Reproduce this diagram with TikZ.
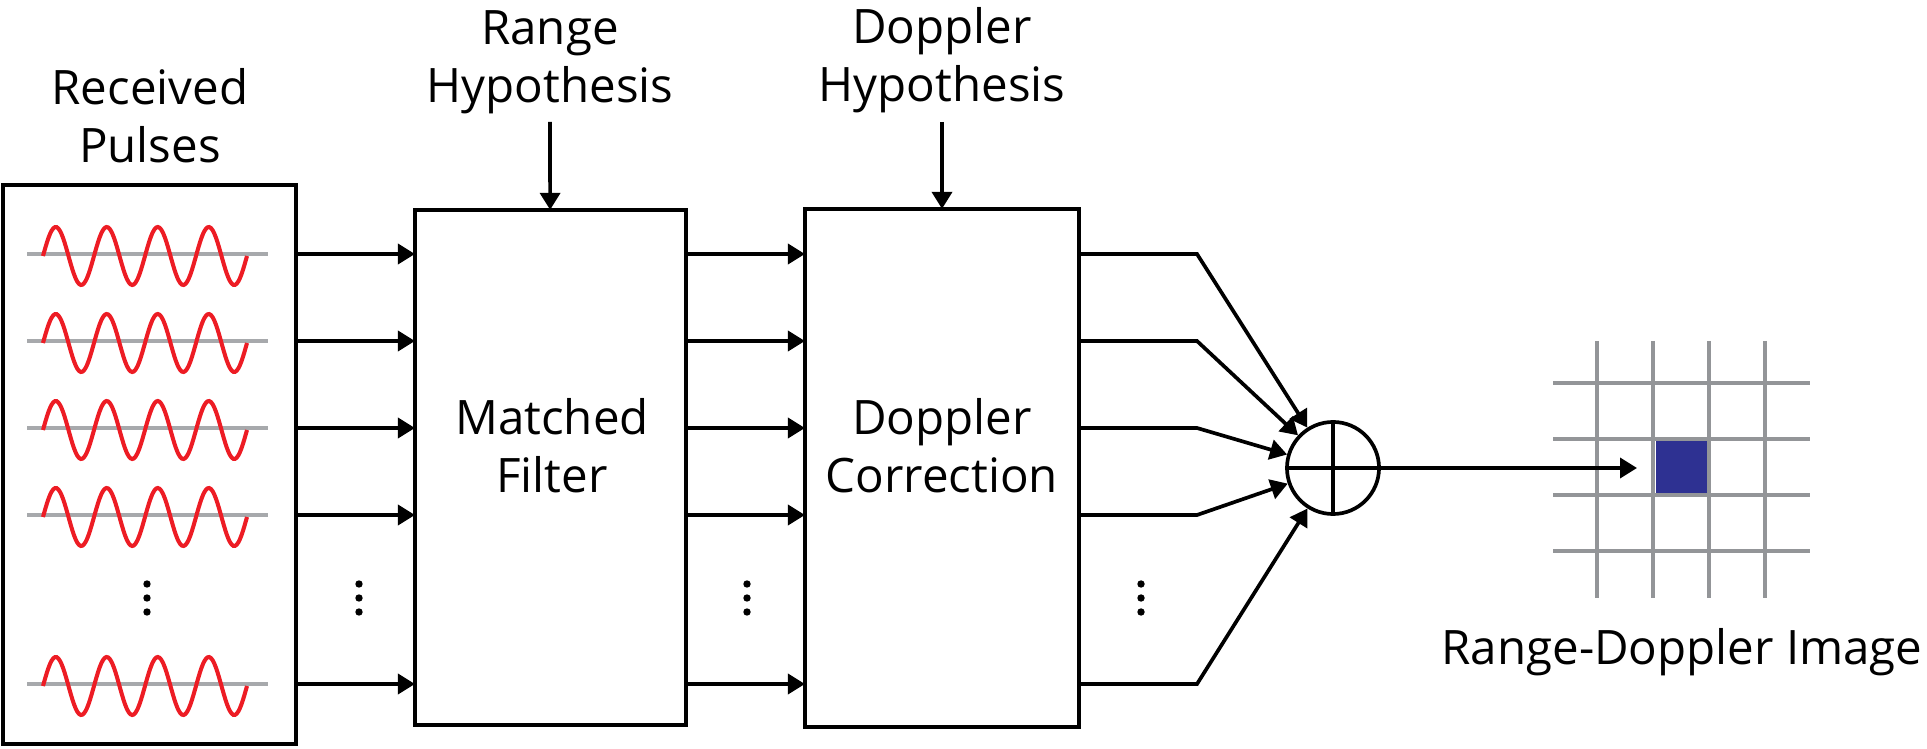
\documentclass[tikz,border=0pt]{standalone}
\usepackage{fontspec}
\setmainfont{Open Sans}
\usetikzlibrary{arrows.meta}
\definecolor{pulseRed}{RGB}{237,28,36}
\definecolor{axisGray}{RGB}{167,169,172}
\definecolor{gridGray}{RGB}{147,149,152}
\definecolor{cellBlue}{RGB}{46,49,146}

\begin{document}
\begin{tikzpicture}[x=0.01cm, y=-0.01cm, line width=1.05pt, >={Triangle[length=0.17cm,width=0.2cm]}]
  \tikzstyle{block} = [draw, rectangle, line width=1.15pt, inner sep=0pt, outer sep=0pt]
  \tikzstyle{lbl} = [align=center, anchor=base, inner sep=0pt, font=\fontsize{13.5}{16.5}\selectfont]
  \useasboundingbox (0,0) rectangle (1927,749);
  % blocks
  \node[block, minimum width=2.93cm, minimum height=5.59cm] (recv) at (149.5,464.5) {};
  \node[block, minimum width=2.71cm, minimum height=5.15cm] (mf) at (550.5,467.5) {};
  \node[block, minimum width=2.74cm, minimum height=5.18cm] (dc) at (942,468) {};
  \node[lbl] (mftxt) at (552,493) {Matched\\Filter};
  \node[lbl] (dctxt) at (942,493) {Doppler\\Correction};
  \node[draw, circle, minimum size=0.92cm, inner sep=0pt] (sum) at (1333,468) {};
  \draw (sum.north) -- (sum.south) (sum.west) -- (sum.east);
  % labels on top
  \node[lbl] (recvtxt) at (150,163) {Received\\Pulses};
  \node[lbl] (rhyp) at (550,103) {Range\\Hypothesis};
  \node[lbl] (dhyp) at (942,102) {Doppler\\Hypothesis};
  \coordinate (rh) at (550,122);
  \coordinate (dh) at (942,122);
  \draw[->] (rh) -- (mf);
  \draw[->] (dh) -- (dc);
  % pulses and channels
  \foreach \r/\yy in {1/254, 2/341, 3/428, 4/515, 5/684} {
    \draw[axisGray] (27,\yy) -- (268,\yy);
    \draw[pulseRed, line width=1.15pt] plot[domain=0:204, samples=120, smooth] (\x+43, {\yy+2-29*sin(\x*7.0588)});
    \coordinate (r\r) at (0,\yy);
    \coordinate (k\r) at (1197,\yy);
    \draw[->] (recv.east |- r\r) -- (mf.west |- r\r);
    \draw[->] (mf.east |- r\r) -- (dc.west |- r\r);
    \draw[->] (dc.east |- r\r) -- (k\r) -- (sum);
  }
  \foreach \xx in {147, 359, 747, 1141}
    \foreach \yy in {584, 598, 612}
      \fill (\xx,\yy) circle[radius=0.037cm];
  % range-doppler image
  \foreach \g in {0,...,3} {
    \draw[gridGray] (1597+56*\g,341) -- (1597+56*\g,598);
    \draw[gridGray] (1553,383+56*\g) -- (1810,383+56*\g);
  }
  \fill[cellBlue] (1656,441) rectangle (1707,493);
  \coordinate (pix) at (1637,468);
  \draw[->] (sum) -- (pix);
  \node[lbl] (rdi) at (1682,664) {Range-Doppler Image};
\end{tikzpicture}
\end{document}
